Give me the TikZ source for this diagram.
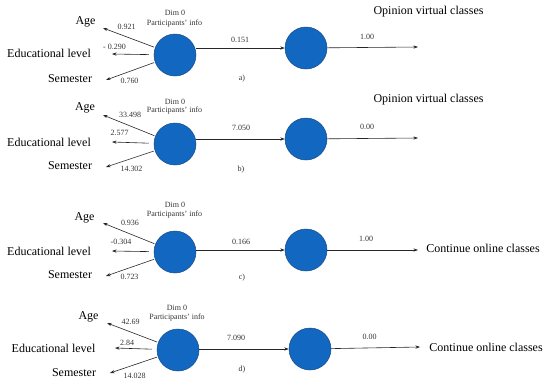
\documentclass[tikz,border=0pt]{standalone}
\usepackage{fontspec}
\setmainfont{Liberation Serif}
\usetikzlibrary{arrows.meta}
\definecolor{cfill}{RGB}{18,104,192}
\definecolor{cedge}{RGB}{25,75,135}
\tikzset{
  ball/.style={circle,fill=cfill,draw=cedge,line width=0.5pt,minimum size=42pt,inner sep=0pt},
  arr/.style={-{Stealth[length=4.5pt,width=3.2pt]},line width=0.6pt,black!85},
  big/.style={font=\fontsize{12}{13}\selectfont,inner sep=0pt},
  small/.style={font=\fontsize{8}{9}\selectfont,inner sep=0pt,text=black!80},
}
\begin{document}
\begin{tikzpicture}[x=1pt,y=-1pt]
\useasboundingbox (0,0) rectangle (550,389);

% ---------- panel a ----------
\node[ball] (a1) at (175,55) {};
\node[ball] (a2) at (306,48) {};
\coordinate (aend) at (418,47);
\coordinate (aage) at (103,28);
\coordinate (aedu) at (112,54);
\coordinate (asem) at (106,80);
\draw[arr,shorten <=1pt] (a1) -- (aage);
\draw[arr,shorten <=5pt] (a1) -- (aedu);
\draw[arr,shorten <=1pt] (a1) -- (asem);
\draw[arr] (a1.east |- a2) -- (a2);
\draw[arr] (a2) -- (aend);
\node[big] (aAge) at (85.5,22) {Age};
\node[big] (aEdu) at (49,53) {Educational level};
\node[big] (aSem) at (70,79) {Semester};
\node[small] (av1) at (126.5,27) {0.921};
\node[small] (av2) at (114.5,47) {- 0.290};
\node[small] (av3) at (129.5,81) {0.760};
\node[small] (adim) at (175,13) {Dim 0};
\node[small] (apart) at (174.5,24) {Participants' info};
\node[small] (alab) at (242,79) {a)};
\node[small] (am) at (240,40) {0.151};
\node[small] (ar) at (367,37) {1.00};
\node[big] (aout) at (428.5,12) {Opinion virtual classes};

% ---------- panel b ----------
\node[ball] (b1) at (175,144) {};
\node[ball] (b2) at (306,139) {};
\coordinate (bend) at (418,138);
\coordinate (bage) at (103,115);
\coordinate (bedu) at (112,142);
\coordinate (bsem) at (106,167);
\draw[arr,shorten <=1pt] (b1) -- (bage);
\draw[arr,shorten <=5pt] (b1) -- (bedu);
\draw[arr,shorten <=1pt] (b1) -- (bsem);
\draw[arr] (b1.east |- b2) -- (b2);
\draw[arr] (b2) -- (bend);
\node[big] (bAge) at (85,108) {Age};
\node[big] (bEdu) at (49,142) {Educational level};
\node[big] (bSem) at (70,166) {Semester};
\node[small] (bv1) at (130,115) {33.498};
\node[small] (bv2) at (119.5,133) {2.577};
\node[small] (bv3) at (131.5,169) {14.302};
\node[small] (bdim) at (175,102) {Dim 0};
\node[small] (bpart) at (174.5,111) {Participants' info};
\node[small] (blab) at (241,170) {b)};
\node[small] (bm) at (241,128) {7.050};
\node[small] (br) at (367,127) {0.00};
\node[big] (bout) at (428.5,100) {Opinion virtual classes};

% ---------- panel c ----------
\node[ball] (c1) at (175,252) {};
\node[ball] (c2) at (306,250) {};
\coordinate (cend) at (418,250);
\coordinate (cage) at (103,223);
\coordinate (cedu) at (112,251);
\coordinate (csem) at (106,276);
\draw[arr,shorten <=1pt] (c1) -- (cage);
\draw[arr,shorten <=5pt] (c1) -- (cedu);
\draw[arr,shorten <=1pt] (c1) -- (csem);
\draw[arr] (c1.east |- c2) -- (c2);
\draw[arr] (c2) -- (cend);
\node[big] (cAge) at (84.5,218) {Age};
\node[big] (cEdu) at (49,251) {Educational level};
\node[big] (cSem) at (70,275) {Semester};
\node[small] (cv1) at (130,223) {0.936};
\node[small] (cv2) at (121,242) {-0.304};
\node[small] (cv3) at (129.5,277) {0.723};
\node[small] (cdim) at (175,205) {Dim 0};
\node[small] (cpart) at (174.5,215) {Participants' info};
\node[small] (clab) at (242,278) {c)};
\node[small] (cm) at (241,242) {0.166};
\node[small] (cr) at (366,239) {1.00};
\node[big] (cout) at (483,248) {Continue online classes};

% ---------- panel d ----------
\node[ball] (d1) at (178,350) {};
\node[ball] (d2) at (310,349) {};
\coordinate (dend) at (420,347);
\coordinate (dage) at (107,323);
\coordinate (dedu) at (115,348);
\coordinate (dsem) at (110,373);
\draw[arr,shorten <=1pt] (d1) -- (dage);
\draw[arr,shorten <=5pt] (d1) -- (dedu);
\draw[arr,shorten <=1pt] (d1) -- (dsem);
\draw[arr] (d1.east |- d2) -- (d2);
\draw[arr] (d2) -- (dend);
\node[big] (dAge) at (88.5,317) {Age};
\node[big] (dEdu) at (53.5,348) {Educational level};
\node[big] (dSem) at (74,373) {Semester};
\node[small] (dv1) at (130.5,322) {42.69};
\node[small] (dv2) at (127,343) {2.84};
\node[small] (dv3) at (134.5,376) {14.028};
\node[small] (ddim) at (177,308) {Dim 0};
\node[small] (dpart) at (177,318) {Participants' info};
\node[small] (dlab) at (242,370) {d)};
\node[small] (dm) at (236,338) {7.090};
\node[small] (dr) at (369.5,337) {0.00};
\node[big] (dout) at (486,347) {Continue online classes};
\end{tikzpicture}
\end{document}
